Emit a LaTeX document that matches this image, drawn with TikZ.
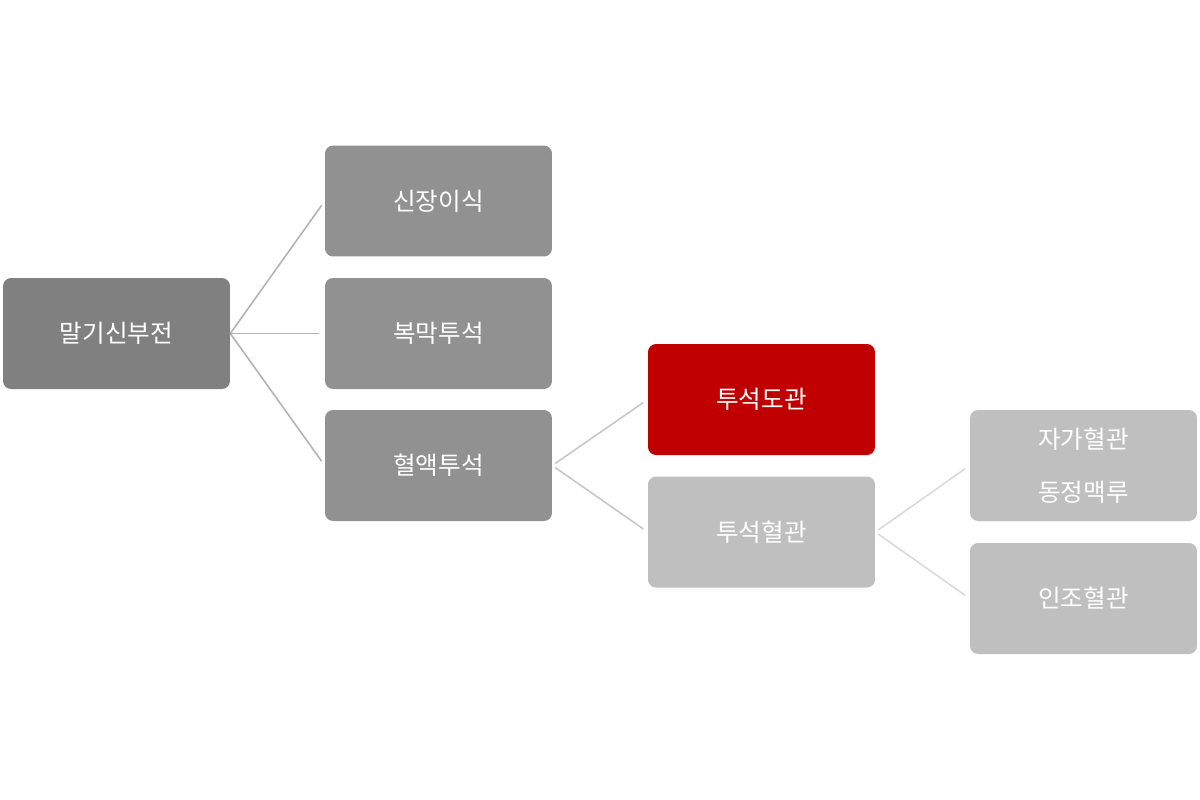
\documentclass[tikz,border=0pt]{standalone}
\usepackage{fontspec}
\newfontfamily\kr{Noto Sans CJK KR}
\begin{document}
\begin{tikzpicture}[x=0.02cm,y=-0.02cm,
  box/.style={rounded corners=0.16cm,minimum width=4.54cm,minimum height=2.22cm,text=white,font=\kr\fontsize{14}{17}\selectfont,inner sep=0pt,align=center},
  ln/.style={draw=#1,line width=0.9pt,shorten >=3pt}]
\useasboundingbox (0,0) rectangle (1200,799);
\node[box,fill=black!50] (root) at (116.5,333.5) {말기신부전};
\node[box,fill=black!43] (a) at (438.5,201) {신장이식};
\node[box,fill=black!43] (b) at (438.5,333.5) {복막투석};
\node[box,fill=black!43] (c) at (438.5,465.5) {혈액투석};
\node[box,fill={rgb,255:red,192;green,0;blue,0}] (d) at (761.5,399.5) {투석도관};
\node[box,fill=black!25] (e) at (761.5,532) {투석혈관};
\node[box,fill=black!25] (f) at (1083.5,465.5) {자가혈관\\[0.45cm]동정맥루};
\node[box,fill=black!25] (g) at (1083.5,598.5) {인조혈관};
\draw[ln=black!30] (root.east) -- (a.west);
\draw[ln=black!30] (root.east) -- (b.west);
\draw[ln=black!30] (root.east) -- (c.west);
\draw[ln=black!22,shorten <=2pt] (c.east) -- (d.west);
\draw[ln=black!22,shorten <=2pt] (c.east) -- (e.west);
\draw[ln=black!15,shorten <=2pt] (e.east) -- (f.west);
\draw[ln=black!15,shorten <=2pt] (e.east) -- (g.west);
\end{tikzpicture}
\end{document}
